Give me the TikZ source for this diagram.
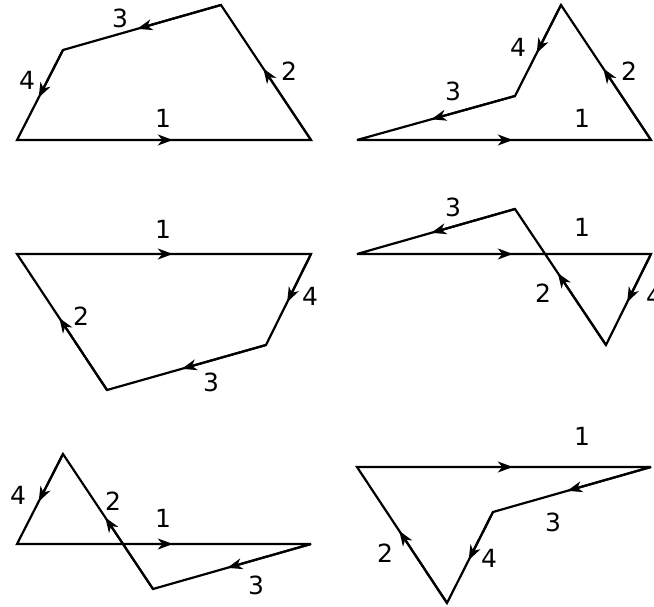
\documentclass[tikz,border=0pt]{standalone}
\usepackage{fontspec}
\setmainfont{DejaVu Sans}
\usetikzlibrary{arrows.meta,calc}
\tikzset{
  edge/.style={line width=2.2pt, line join=miter, miter limit=4},
  half/.style={line width=2.2pt, -{Stealth[length=15pt,width=11pt,inset=4.5pt]}},
  lab/.style={inner sep=0pt, font=\fontsize{25}{25}\selectfont}
}
\newcommand{\halfarrow}[2]{\draw[half] (#1) -- ($(#1)!0.53!(#2)$);}
\begin{document}
\begin{tikzpicture}[x=1pt,y=-1pt]
\useasboundingbox (0,0) rectangle (654,607);
% ---------- panel 1 ----------
\coordinate (a1) at (17,140); \coordinate (b1) at (311,140);
\coordinate (c1) at (221,5);  \coordinate (d1) at (63,50);
\draw[edge] (a1) -- (b1) -- (c1) -- (d1) -- cycle;
\halfarrow{a1}{b1} \halfarrow{b1}{c1} \halfarrow{c1}{d1} \halfarrow{d1}{a1}
\node[lab] (l11) at (163,118) {1};
\node[lab] (l12) at (289,71) {2};
\node[lab] (l13) at (120,18) {3};
\node[lab] (l14) at (27,80) {4};
% ---------- panel 2 ----------
\coordinate (a2) at (357,140); \coordinate (b2) at (651,140);
\coordinate (c2) at (561,5);   \coordinate (d2) at (515,96);
\draw[edge] (a2) -- (b2) -- (c2) -- (d2) -- cycle;
\halfarrow{a2}{b2} \halfarrow{b2}{c2} \halfarrow{c2}{d2} \halfarrow{d2}{a2}
\node[lab] (l21) at (582,118) {1};
\node[lab] (l22) at (629,71) {2};
\node[lab] (l23) at (453,91) {3};
\node[lab] (l24) at (518,47) {4};
% ---------- panel 3 ----------
\coordinate (a3) at (17,254);  \coordinate (b3) at (311,254);
\coordinate (c3) at (266,345); \coordinate (d3) at (107,390);
\draw[edge] (a3) -- (b3) -- (c3) -- (d3) -- cycle;
\halfarrow{a3}{b3} \halfarrow{b3}{c3} \halfarrow{c3}{d3} \halfarrow{d3}{a3}
\node[lab] (l31) at (163,229) {1};
\node[lab] (l32) at (81,316) {2};
\node[lab] (l33) at (211,382) {3};
\node[lab] (l34) at (310,296) {4};
% ---------- panel 4 ----------
\coordinate (a4) at (357,254); \coordinate (b4) at (651,254);
\coordinate (c4) at (606,345); \coordinate (d4) at (515,209);
\draw[edge] (a4) -- (b4) -- (c4) -- (d4) -- cycle;
\halfarrow{a4}{b4} \halfarrow{b4}{c4} \halfarrow{c4}{d4} \halfarrow{d4}{a4}
\node[lab] (l41) at (582,227) {1};
\node[lab] (l42) at (543,293) {2};
\node[lab] (l43) at (453,207) {3};
\node[lab] (l44) at (654,296) {4};
% ---------- panel 5 ----------
\coordinate (a5) at (17,544);  \coordinate (b5) at (311,544);
\coordinate (c5) at (153,589); \coordinate (d5) at (63,454);
\draw[edge] (a5) -- (b5) -- (c5) -- (d5) -- cycle;
\halfarrow{a5}{b5} \halfarrow{b5}{c5} \halfarrow{c5}{d5} \halfarrow{d5}{a5}
\node[lab] (l51) at (163,518) {1};
\node[lab] (l52) at (113,501) {2};
\node[lab] (l53) at (256,585) {3};
\node[lab] (l54) at (18,495) {4};
% ---------- panel 6 ----------
\coordinate (a6) at (357,467); \coordinate (b6) at (651,467);
\coordinate (c6) at (493,512); \coordinate (d6) at (447,603);
\draw[edge] (a6) -- (b6) -- (c6) -- (d6) -- cycle;
\halfarrow{a6}{b6} \halfarrow{b6}{c6} \halfarrow{c6}{d6} \halfarrow{d6}{a6}
\node[lab] (l61) at (582,436) {1};
\node[lab] (l62) at (385,553) {2};
\node[lab] (l63) at (553,522) {3};
\node[lab] (l64) at (489,558) {4};
\end{tikzpicture}
\end{document}
